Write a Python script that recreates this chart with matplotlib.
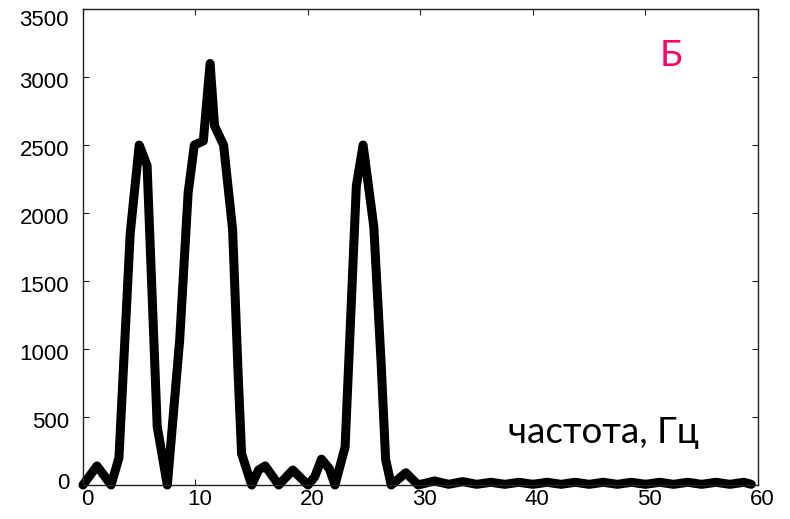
import matplotlib
matplotlib.use("Agg")
import matplotlib.pyplot as plt
import matplotlib.transforms as mtransforms

# spectrum trace (frequency, amplitude)
freq = [0, 1.25, 2.5, 3.2, 4.2, 5.0, 5.7, 6.6, 7.5, 8.6, 9.35, 9.9, 10.7,
        11.3, 11.7, 12.5, 13.3, 13.8, 14.1, 15.0, 15.6, 16.2, 17.4, 18.65,
        20.0, 20.6, 21.2, 21.9, 22.4, 23.3, 24.3, 24.9, 25.85, 26.5, 26.9,
        27.4, 28.7, 29.8,
        31.25, 32.5, 33.75, 35.0, 36.25, 37.5, 38.75, 40.0, 41.25, 42.5,
        43.75, 45.0, 46.25, 47.5, 48.75, 50.0, 51.25, 52.5, 53.75, 55.0,
        56.25, 57.5, 58.75, 59.4]
amp = [0, 140, 0, 200, 1850, 2500, 2350, 430, 0, 1070, 2150, 2500, 2530,
       3100, 2640, 2500, 1880, 800, 230, 0, 110, 140, 0, 110,
       0, 60, 190, 120, 0, 280, 2200, 2500, 1900, 900, 190,
       0, 90, 0,
       30, 5, 25, 5, 20, 5, 20, 5, 20, 5,
       20, 5, 20, 5, 20, 5, 20, 5, 20, 5,
       20, 5, 20, 5]

x_ticks = [0, 10, 20, 30, 40, 50, 60]
y_ticks = [0, 500, 1000, 1500, 2000, 2500, 3000, 3500]

fig = plt.figure(figsize=(7.9, 5.19), dpi=100)
ax = fig.add_axes([0.105, 0.0655, 0.8545, 0.917])

ax.plot(freq, amp, color='black', linewidth=6.5, solid_joinstyle='round',
        solid_capstyle='round', clip_on=False)

ax.set_xlim(0, 60)
ax.set_ylim(0, 3500)
ax.set_xticks(x_ticks)
ax.set_yticks(y_ticks)

for s in ax.spines.values():
    s.set_linewidth(1.0)
    s.set_color('#222222')

ax.tick_params(direction='in', length=4, width=0.8, top=True, right=True,
               labelsize=16, colors='#222222', labelcolor='black')
ax.tick_params(axis='x', pad=3)
ax.tick_params(axis='y', pad=10)

# labels in the source sit slightly off their ticks
def px(dx, dy):
    return mtransforms.ScaledTranslation(dx / 100, dy / 100, fig.dpi_scale_trans)

for t in ax.xaxis.get_major_ticks():
    t.label1.set_family('Liberation Sans')
    t.label1.set_transform(t.label1.get_transform() + px(4, 0))
for val, t in zip(y_ticks, ax.yaxis.get_major_ticks()):
    t.label1.set_family('Liberation Sans')
    dy = -3
    if val == 0:
        dy = 4
    elif val == 3500:
        dy = -9
    t.label1.set_transform(t.label1.get_transform() + px(0, dy))

ax.text(0.63, 0.088, 'частота, Гц', transform=ax.transAxes,
        fontsize=26.5, family='Lato', ha='left', va='baseline')
ax.text(0.871, 0.902, 'Б', transform=ax.transAxes, fontsize=26.5,
        family='Lato', color='#FF0066', ha='center', va='center')

fig.savefig('out.png', dpi=100)
